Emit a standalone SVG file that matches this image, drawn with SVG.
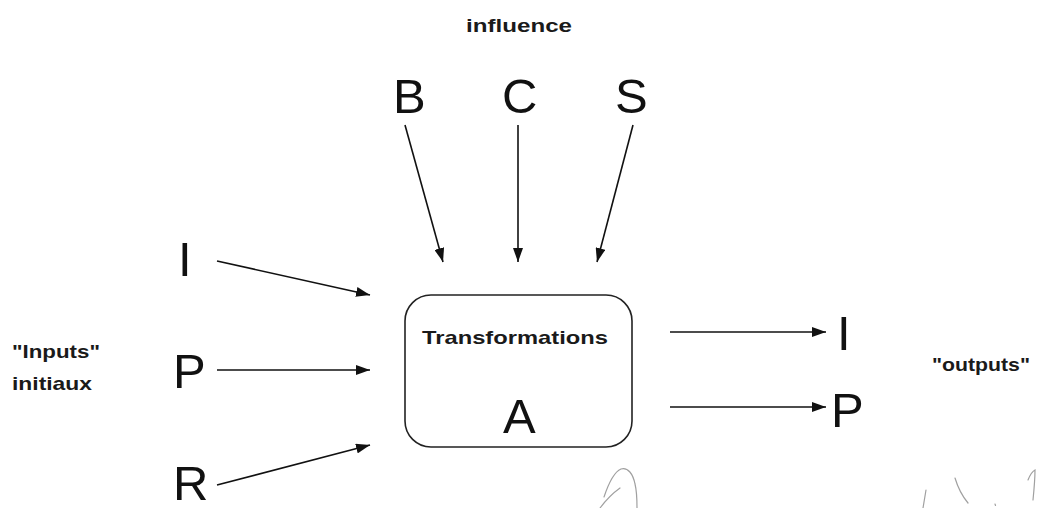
<svg xmlns="http://www.w3.org/2000/svg" width="1043" height="508" viewBox="0 0 1043 508">
  <style>
    .big { font-family: "Liberation Sans", Arial, sans-serif; font-size: 49px; fill: #111; }
    .lbl { font-family: "Liberation Sans", Arial, sans-serif; font-size: 19px; font-weight: bold; fill: #1a1a1a; }
    .edge { stroke: #111; stroke-width: 1.6; fill: none; marker-end: url(#head); }
    .pencil { stroke: #a0a0a0; stroke-width: 1.2; fill: none; stroke-linecap: round; }
  </style>
  <defs>
    <marker id="head" viewBox="0 0 14 10" refX="14" refY="5" markerWidth="14" markerHeight="10" markerUnits="userSpaceOnUse" orient="auto">
      <path d="M0,0 L14,5 L0,10 z" fill="#111"/>
    </marker>
  </defs>
  <rect width="1043" height="508" fill="#ffffff"/>

  <!-- captions -->
  <text class="lbl" x="466" y="32" textLength="106" lengthAdjust="spacingAndGlyphs">influence</text>
  <text class="lbl" x="12" y="358" textLength="88" lengthAdjust="spacingAndGlyphs">"Inputs"</text>
  <text class="lbl" x="12" y="390" textLength="80" lengthAdjust="spacingAndGlyphs">initiaux</text>
  <text class="lbl" x="932" y="371" textLength="98" lengthAdjust="spacingAndGlyphs">"outputs"</text>

  <!-- influence sources -->
  <g id="node-B"><text class="big" x="393" y="113">B</text></g>
  <g id="node-C"><text class="big" x="502" y="113">C</text></g>
  <g id="node-S"><text class="big" x="615" y="113">S</text></g>

  <!-- initial inputs -->
  <g id="node-I-in"><text class="big" x="178" y="276">I</text></g>
  <g id="node-P-in"><text class="big" x="173" y="388">P</text></g>
  <g id="node-R-in"><text class="big" x="173" y="500">R</text></g>

  <!-- transformation block -->
  <g id="node-A">
    <rect x="405" y="295" width="227" height="152" rx="26" ry="26" fill="#fff" stroke="#222" stroke-width="1.6"/>
    <text class="lbl" x="422" y="344" font-size="21" textLength="186" lengthAdjust="spacingAndGlyphs">Transformations</text>
    <text class="big" x="503" y="433" font-size="51">A</text>
  </g>

  <!-- outputs -->
  <g id="node-I-out"><text class="big" x="837" y="350" font-size="51">I</text></g>
  <g id="node-P-out"><text class="big" x="831" y="427" font-size="51">P</text></g>

  <!-- connectors -->
  <g id="connectors">
    <line class="edge" x1="405" y1="125" x2="443" y2="262"/>
    <line class="edge" x1="518" y1="125" x2="518" y2="262"/>
    <line class="edge" x1="633" y1="125" x2="597" y2="262"/>
    <line class="edge" x1="217" y1="261" x2="370" y2="295"/>
    <line class="edge" x1="217" y1="370" x2="370" y2="370"/>
    <line class="edge" x1="217" y1="485" x2="370" y2="445"/>
    <line class="edge" x1="670" y1="332" x2="826" y2="332"/>
    <line class="edge" x1="670" y1="407" x2="826" y2="407"/>
  </g>

  <!-- pencil marks along the bottom edge -->
  <path class="pencil" d="M604,497 C608,485 614,472 621,469 C628,467 633,474 635,484 C637,492 637,500 637,508"/>
  <path class="pencil" d="M600,508 C606,500 613,493 620,488"/>
  <path class="pencil" d="M926,490 C925,496 924,502 923,508"/>
  <path class="pencil" d="M955,478 C958,488 963,497 968,503"/>
  <path class="pencil" d="M995,504 L995.5,505.5"/>
  <path class="pencil" d="M1028,480 C1030,475 1033,471 1035,470 C1035,480 1034,490 1033,500"/>
</svg>
